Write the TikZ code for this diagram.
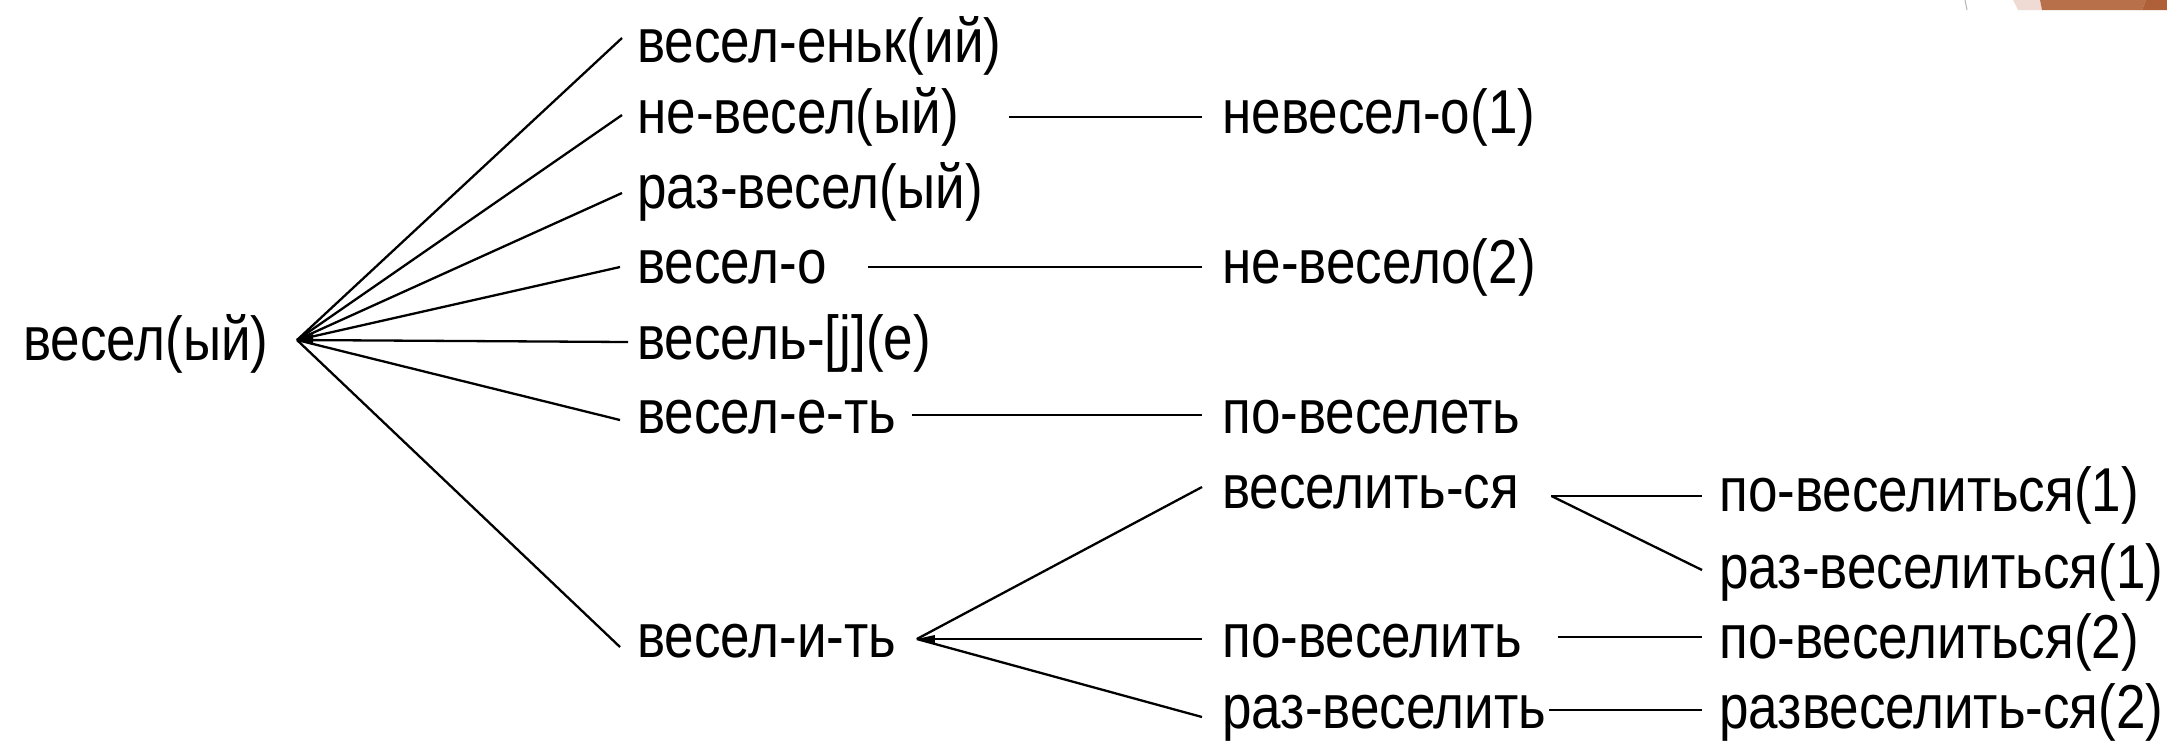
\documentclass[tikz,border=0pt]{standalone}
\usepackage{fontspec}
\setmainfont[FakeStretch=0.855]{Liberation Sans}
\usetikzlibrary{calc}
\definecolor{decopink}{RGB}{239,218,212}
\definecolor{decoorange}{RGB}{183,112,74}
\definecolor{decodark}{RGB}{176,96,56}
\begin{document}
\begin{tikzpicture}[x=0.5pt,y=-0.5pt,
  lbl/.style={anchor=base west, inner sep=0pt, font=\fontsize{31}{31}\selectfont},
  conn/.style={line width=1.15pt, black}]
\useasboundingbox (0,0) rectangle (2167,741);
\fill[white] (0,0) rectangle (2167,741);
% decoration at top right
\draw[gray!60, line width=0.5pt] (1965,0) -- (1967,10);
\fill[decopink] (2013,0) -- (2040,0) -- (2042,10) -- (2018,10) -- cycle;
\fill[decoorange] (2040,0) -- (2146,0) -- (2142,10) -- (2042,10) -- cycle;
\fill[decodark] (2146,0) -- (2167,0) -- (2167,10) -- (2142,10) -- cycle;
% nodes
\node[lbl] (root) at (23,360) {весел(ый)};
\node[lbl] (a1) at (637,62) {весел-еньк(ий)};
\node[lbl] (a2) at (637,133) {не-весел(ый)};
\node[lbl] (a3) at (637,208) {раз-весел(ый)};
\node[lbl] (a4) at (637,283) {весел-о};
\node[lbl] (a5) at (637,359) {весель-[j](е)};
\node[lbl] (a6) at (637,433) {весел-е-ть};
\node[lbl] (a7) at (637,657) {весел-и-ть};
\node[lbl] (b2) at (1222,133) {невесел-о(1)};
\node[lbl] (b4) at (1222,283) {не-весело(2)};
\node[lbl] (b6) at (1222,433) {по-веселеть};
\node[lbl] (b7) at (1222,508) {веселить-ся};
\node[lbl] (b9) at (1222,657) {по-веселить};
\node[lbl] (b10) at (1222,728) {раз-веселить};
\node[lbl] (c7) at (1719,511) {по-веселиться(1)};
\node[lbl] (c8) at (1719,588) {раз-веселиться(1)};
\node[lbl] (c9) at (1719,658) {по-веселиться(2)};
\node[lbl] (c10) at (1719,728) {развеселить-ся(2)};
% hubs
\coordinate (hub) at ($(root.base east)+(28,-20)$);
\coordinate (hub2) at ($(a7.base east)+(20,-18)$);
\coordinate (hub3) at ($(b7.base east)+(32,-12)$);
\fill (hub) -- ++(16,-6) -- ++(0,11) -- cycle;
\fill (hub2) -- ++(18,-4) -- ++(0,8) -- cycle;
% first fan
\draw[conn] (hub) -- ($(a1.base west)+(-15,-24)$);
\draw[conn] (hub) -- ($(a2.base west)+(-15,-18)$);
\draw[conn] (hub) -- ($(a3.base west)+(-15,-15)$);
\draw[conn] (hub) -- ($(a4.base west)+(-17,-16)$);
\draw[conn] (hub) -- ($(a5.base west)+(-9,-17)$);
\draw[conn] (hub) -- ($(a6.base west)+(-17,-13)$);
\draw[conn] (hub) -- ($(a7.base west)+(-17,-10)$);
% column 2 to column 3
\draw[conn] ($(a2.base east)+(50,-16)$) -- ($(b2.base west)+(-20,-16)$);
\draw[conn] ($(a4.base east)+(41,-16)$) -- ($(b4.base west)+(-20,-16)$);
\draw[conn] ($(a6.base east)+(15,-18)$) -- ($(b6.base west)+(-20,-18)$);
\draw[conn] (hub2) -- ($(b7.base west)+(-20,-21)$);
\draw[conn] (hub2) -- ($(b9.base west)+(-20,-18)$);
\draw[conn] (hub2) -- ($(b10.base west)+(-20,-11)$);
% column 3 to column 4
\draw[conn] (hub3) -- ($(c7.base west)+(-17,-15)$);
\draw[conn] (hub3) -- ($(c8.base west)+(-17,-18)$);
\draw[conn] ($(b9.base east)+(36,-20)$) -- ($(c9.base west)+(-17,-21)$);
\draw[conn] ($(b10.base east)+(2,-18)$) -- ($(c10.base west)+(-17,-18)$);
\end{tikzpicture}
\end{document}
